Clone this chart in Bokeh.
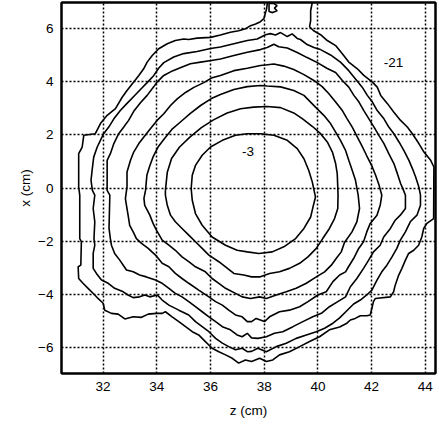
from bokeh.plotting import figure
from bokeh.models import Range1d, FixedTicker, ColumnDataSource, LinearAxis
from bokeh.embed import file_html
from bokeh.resources import INLINE
from bokeh.core.properties import value

# axis ticks
z_ticks = [32, 34, 36, 38, 40, 42, 44]
x_ticks = [-6, -4, -2, 0, 2, 4, 6]

# contour levels (z in cm, x in cm)
z_m3 = [37.86, 38.36, 38.86, 39.23, 39.48, 39.66, 39.79, 39.91, 39.85, 39.73, 39.48, 39.17, 38.73, 38.30, 37.80,
        37.37, 36.99, 36.56, 36.06, 35.69, 35.44, 35.32, 35.28, 35.32, 35.44, 35.69, 36.00, 36.44, 36.93, 37.37, 37.86]
x_m3 = [2.04, 1.98, 1.79, 1.48, 1.10, 0.66, 0.23, -0.34, -0.58, -1.09, -1.52, -1.90, -2.21, -2.40, -2.46,
        -2.40, -2.34, -2.15, -1.84, -1.40, -0.96, -0.46, -0.02, 0.48, 0.85, 1.23, 1.54, 1.79, 1.98, 2.04, 2.04]

z_m6 = [34.32, 34.32, 34.39, 34.51, 34.69, 34.94, 35.19, 35.44, 35.69, 35.94, 36.31, 36.56, 36.87, 37.24, 37.53, 37.83,
        38.20, 38.57, 38.94, 39.32, 39.63, 39.94, 40.18, 40.43, 40.62, 40.74, 40.75, 40.74, 40.72, 40.66, 40.54, 40.35,
        40.10, 39.80, 39.43, 39.10, 38.61, 38.11, 37.61, 37.12, 36.62, 36.11, 35.66, 35.22, 34.84, 34.55, 34.39, 34.32]
x_m6 = [-0.09, -0.27, -0.65, -1.02, -1.27, -1.52, -1.77, -2.02, -2.27, -2.52, -2.77, -2.96, -3.21, -3.27, -3.34, -3.34,
        -3.21, -3.15, -3.02, -2.83, -2.59, -2.27, -1.90, -1.52, -1.15, -0.77, -0.27, 0.04, 0.54, 0.92, 1.35, 1.73,
        2.04, 2.31, 2.60, 2.82, 3.02, 3.06, 3.04, 2.98, 2.82, 2.56, 2.27, 1.90, 1.53, 1.11, 0.59, -0.09]

z_m9 = [40.22, 39.91, 39.48, 39.10, 38.61, 38.11, 37.86, 37.37, 36.87, 36.37, 36.03, 35.63, 35.25, 34.88, 34.56,
        34.28, 34.06, 33.87, 33.73, 33.63, 33.58, 33.52, 33.55, 33.74, 33.86, 33.99, 34.20, 34.45, 34.69, 34.94,
        35.19, 35.44, 35.81, 36.06, 36.31, 36.56, 36.93, 37.18, 37.49, 37.83, 38.08, 38.45, 38.82, 39.19, 39.57,
        39.94, 40.25, 40.50, 40.68, 40.87, 40.99, 41.27, 41.45, 41.55, 41.50, 41.40, 41.28, 41.15, 41.03, 40.84,
        40.66, 40.47, 40.22]
x_m9 = [2.73, 3.04, 3.48, 3.66, 3.80, 3.83, 3.85, 3.81, 3.70, 3.51, 3.36, 3.10, 2.80, 2.48, 2.20,
        1.85, 1.56, 1.19, 0.81, 0.48, -0.09, -0.39, -0.65, -1.02, -1.33, -1.59, -1.96, -2.15, -2.34, -2.59,
        -2.77, -2.96, -3.15, -3.40, -3.58, -3.77, -3.96, -4.09, -4.15, -4.09, -4.15, -4.02, -3.90, -3.77, -3.58,
        -3.34, -3.15, -2.90, -2.65, -2.40, -2.05, -1.65, -1.27, -0.77, -0.27, 0.29, 0.66, 1.04, 1.41, 1.79,
        2.10, 2.42, 2.73]

z_m12 = [40.41, 40.16, 39.85, 39.48, 39.10, 38.73, 38.36, 38.05, 37.86, 37.37, 36.87, 36.37, 36.03, 35.75, 35.38,
         35.07, 34.76, 34.51, 34.26, 34.01, 33.76, 33.51, 33.33, 33.14, 33.02, 32.89, 32.89, 32.83, 32.87, 32.93,
         32.99, 33.12, 33.24, 33.43, 33.68, 33.99, 34.20, 34.45, 34.69, 34.94, 35.19, 35.56, 35.94, 36.19, 36.44,
         36.68, 36.93, 37.18, 37.37, 37.53, 37.70, 38.01, 38.20, 38.57, 38.94, 39.32, 39.63, 40.00, 40.31, 40.56,
         40.81, 41.03, 41.14, 41.33, 41.52, 41.70, 41.82, 41.95, 42.20, 42.32, 42.38, 42.28, 42.15, 42.00, 41.81,
         41.63, 41.47, 41.28, 41.09, 40.91, 40.66, 40.41]
x_m12 = [3.54, 3.81, 4.04, 4.26, 4.45, 4.58, 4.66, 4.62, 4.60, 4.50, 4.41, 4.23, 4.13, 3.96, 3.78,
         3.59, 3.35, 3.10, 2.79, 2.54, 2.23, 1.91, 1.67, 1.35, 1.04, 0.60, 0.04, -0.40, -0.65, -1.02,
         -1.40, -1.65, -1.90, -2.08, -2.27, -2.56, -2.83, -2.96, -3.21, -3.40, -3.58, -3.84, -4.09, -4.27, -4.40,
         -4.59, -4.77, -4.84, -5.02, -5.02, -4.90, -5.02, -4.84, -4.65, -4.59, -4.46, -4.27, -4.02, -3.90, -3.52,
         -3.27, -3.15, -2.96, -2.65, -2.27, -2.02, -1.65, -1.33, -1.02, -0.65, -0.27, 0.10, 0.48, 0.85, 1.23,
         1.60, 1.91, 2.29, 2.60, 2.91, 3.23, 3.54]

z_m15 = [40.35, 39.98, 39.60, 39.23, 38.86, 38.54, 38.36, 38.11, 37.86, 37.37, 36.87, 36.37, 36.03, 35.63, 35.25,
         34.92, 34.58, 34.26, 34.01, 33.89, 33.64, 33.39, 33.14, 32.95, 32.77, 32.58, 32.40, 32.27, 32.15, 32.15,
         32.25, 32.22, 32.27, 32.31, 32.43, 32.62, 32.75, 32.87, 33.12, 33.36, 33.61, 33.95, 34.20, 34.45, 34.69,
         34.94, 35.19, 35.44, 35.69, 35.94, 36.19, 36.44, 36.74, 36.99, 37.18, 37.37, 37.53, 37.76, 38.08, 38.38,
         38.69, 39.07, 39.44, 39.81, 40.13, 40.43, 40.74, 41.03, 41.21, 41.45, 41.70, 41.89, 42.07, 42.32, 42.45,
         42.70, 42.88, 43.07, 43.26, 43.26, 43.19, 43.08, 42.96, 42.83, 42.64, 42.46, 42.27, 42.09, 41.90, 41.71,
         41.53, 41.34, 41.15, 40.91, 40.66, 40.35]
x_m15 = [4.49, 4.71, 4.90, 5.09, 5.26, 5.31, 5.40, 5.28, 5.20, 5.10, 4.98, 4.85, 4.79, 4.73, 4.67,
         4.54, 4.40, 4.23, 3.98, 3.81, 3.48, 3.20, 2.88, 2.54, 2.29, 2.04, 1.67, 1.29, 1.04, -0.09,
         -0.27, -1.52, -1.90, -2.15, -2.46, -2.71, -2.90, -3.08, -3.15, -3.27, -3.34, -3.46, -3.58, -3.77, -3.96,
         -4.09, -4.27, -4.46, -4.65, -4.84, -5.02, -5.21, -5.33, -5.52, -5.59, -5.46, -5.63, -5.65, -5.59, -5.46,
         -5.40, -5.21, -5.02, -4.84, -4.71, -4.46, -4.27, -4.09, -3.71, -3.40, -3.02, -2.71, -2.40, -2.15, -1.84,
         -1.52, -1.21, -1.02, -0.77, -0.27, -0.09, 0.17, 0.54, 0.92, 1.29, 1.67, 1.98, 2.29, 2.60, 2.91,
         3.23, 3.48, 3.79, 4.04, 4.34, 4.49]

z_m18 = [40.10, 39.85, 39.60, 39.35, 39.23, 39.04, 38.86, 38.61, 38.42, 38.23, 38.05, 37.74, 37.37, 36.87, 36.37,
         36.00, 35.50, 35.00, 34.63, 34.26, 34.06, 33.89, 33.64, 33.39, 33.14, 32.89, 32.64, 32.40, 32.21, 32.02,
         31.90, 31.78, 31.65, 31.59, 31.55, 31.60, 31.69, 31.63, 31.69, 31.66, 31.69, 31.63, 31.63, 31.75, 31.94,
         32.19, 32.43, 32.75, 32.93, 33.12, 33.36, 33.55, 33.74, 34.02, 34.20, 34.45, 34.82, 35.19, 35.44, 35.69,
         35.94, 36.19, 36.44, 36.68, 36.93, 37.18, 37.37, 37.53, 37.76, 38.08, 38.45, 38.82, 39.19, 39.57, 39.94,
         40.25, 40.56, 40.81, 41.03, 41.33, 41.58, 41.82, 42.01, 42.20, 42.38, 42.57, 42.76, 42.94, 43.07, 43.26,
         43.44, 43.69, 43.82, 43.82, 43.76, 43.64, 43.52, 43.39, 43.20, 43.02, 42.83, 42.64, 42.46, 42.21, 42.03,
         41.84, 41.65, 41.40, 41.15, 40.84, 40.47, 40.10]
x_m18 = [5.20, 5.28, 5.39, 5.58, 5.62, 5.79, 5.69, 5.84, 5.75, 5.80, 5.76, 5.60, 5.54, 5.42, 5.30,
         5.24, 5.13, 5.05, 4.92, 4.71, 4.49, 4.23, 3.96, 3.70, 3.44, 3.18, 2.91, 2.60, 2.29, 2.04,
         1.79, 1.54, 1.16, 0.66, 0.29, -0.09, -0.27, -0.77, -1.27, -1.90, -2.15, -2.46, -3.02, -3.21, -3.46,
         -3.58, -3.77, -3.90, -4.02, -4.12, -4.09, -4.02, -4.09, -4.02, -4.21, -4.40, -4.59, -4.77, -5.02, -5.21,
         -5.40, -5.65, -5.83, -5.96, -6.08, -6.02, -6.15, -6.14, -6.02, -6.15, -5.96, -5.83, -5.65, -5.52, -5.40,
         -5.27, -5.08, -4.88, -4.66, -4.36, -4.21, -4.02, -3.84, -3.46, -3.15, -2.90, -2.59, -2.27, -1.96, -1.65,
         -1.27, -1.02, -0.65, -0.27, 0.04, 0.41, 0.73, 1.04, 1.41, 1.73, 2.04, 2.29, 2.60, 2.91, 3.23,
         3.48, 3.79, 4.10, 4.41, 4.73, 5.00, 5.20]

z_m21 = [38.12, 38.09, 37.99, 37.86, 37.68, 37.49, 37.30, 37.05, 36.74, 36.37, 36.00, 35.50, 35.19, 35.00, 34.69,
         34.39, 34.07, 33.83, 33.64, 33.51, 33.33, 33.14, 32.89, 32.71, 32.46, 32.15, 31.90, 31.71, 31.28, 31.22,
         31.09, 31.09, 31.13, 31.13, 31.19, 31.17, 31.07, 31.09, 31.25, 31.44, 31.69, 31.81, 32.00, 32.06, 32.31,
         32.56, 32.81, 33.12, 33.43, 33.68, 33.99, 34.20, 34.32, 34.57, 34.82, 35.07, 35.32, 35.56, 35.81, 36.06,
         36.31, 36.56, 36.81, 37.05, 37.30, 37.53, 37.83, 38.08, 38.32, 38.57, 38.94, 39.32, 39.69, 40.06, 40.43,
         40.81, 41.08, 41.21, 41.39, 41.58, 41.82, 41.95, 42.01, 42.07, 42.14, 42.70, 42.82, 42.88, 43.01, 43.13,
         43.26, 43.38, 43.57, 43.75, 43.87, 43.94, 44.06, 44.31, 44.32, 44.20, 43.95, 43.76, 43.52, 43.33, 43.08,
         42.83, 42.59, 42.34, 42.21, 42.03, 41.71, 41.47, 41.15, 40.91, 40.66, 40.35, 40.10, 39.84, 39.69, 39.73,
         39.73, 39.79]
x_m21 = [6.97, 6.74, 6.37, 6.25, 6.16, 6.10, 5.98, 5.91, 5.85, 5.75, 5.66, 5.63, 5.58, 5.60, 5.54,
         5.42, 5.23, 4.98, 4.73, 4.48, 4.23, 3.98, 3.66, 3.41, 2.98, 2.73, 2.42, 2.04, 1.98, 1.54,
         1.29, 0.03, -0.27, -1.90, -2.02, -2.90, -2.96, -3.40, -3.58, -3.77, -4.02, -4.15, -4.33, -4.59, -4.71,
         -4.74, -4.92, -4.84, -4.86, -4.74, -4.71, -4.71, -4.65, -4.84, -5.02, -5.21, -5.40, -5.52, -5.77, -6.02,
         -6.15, -6.27, -6.40, -6.58, -6.46, -6.52, -6.40, -6.52, -6.46, -6.27, -6.15, -5.96, -5.77, -5.59, -5.33,
         -5.22, -5.08, -4.96, -4.90, -4.80, -4.80, -4.77, -4.52, -4.27, -4.15, -4.09, -3.90, -3.65, -3.27, -3.02,
         -2.71, -2.46, -2.34, -2.15, -1.84, -1.52, -1.33, -1.15, 0.79, 1.04, 1.35, 1.67, 2.04, 2.29, 2.54,
         2.85, 3.17, 3.48, 3.79, 3.98, 4.23, 4.48, 4.73, 5.04, 5.35, 5.54, 5.76, 5.91, 6.06, 6.29,
         6.66, 6.97]

# small closed piece of the -21 level at the top edge
z_m21_loop = [38.18, 38.35, 38.48, 38.38, 38.48, 38.31, 38.18, 38.18]
x_m21_loop = [6.93, 6.94, 6.85, 6.76, 6.66, 6.59, 6.63, 6.93]

# contour labels
label_z = [37.40, 42.82]
label_x = [1.38, 4.71]
label_text = ["-3", "-21"]

p = figure(width=439, height=428, output_backend="svg", toolbar_location=None,
           x_range=Range1d(30.45, 44.38), y_range=Range1d(-6.97, 6.97),
           min_border_left=61, min_border_right=4, min_border_top=2, min_border_bottom=55,
           x_axis_label="z (cm)", y_axis_label="x (cm)")
p.styles = {"position": "absolute", "left": "0px", "top": "0px"}
p.background_fill_color = "white"
p.border_fill_color = "white"
p.outline_line_color = "black"
p.outline_line_width = 2
p.outline_line_alpha = 1.0

bottom_axis = p.below[0]
left_axis = p.left[0]

# plain frame lines on top and right (no ticks, no labels)
top_axis = LinearAxis(ticker=FixedTicker(ticks=[]), major_tick_line_color=None, minor_tick_line_color=None,
                      major_tick_out=0, major_tick_in=0, axis_line_color="black", axis_line_width=2)
right_axis = LinearAxis(ticker=FixedTicker(ticks=[]), major_tick_line_color=None, minor_tick_line_color=None,
                        major_tick_out=0, major_tick_in=0, axis_line_color="black", axis_line_width=2)
p.add_layout(top_axis, "above")
p.add_layout(right_axis, "right")

bottom_axis.ticker = FixedTicker(ticks=z_ticks)
left_axis.ticker = FixedTicker(ticks=x_ticks)
p.xgrid.ticker = FixedTicker(ticks=z_ticks)
p.ygrid.ticker = FixedTicker(ticks=x_ticks)
for g in (p.xgrid, p.ygrid):
    g.grid_line_color = "black"
    g.grid_line_dash = "2 2"
    g.grid_line_width = 1.5
    g.grid_line_alpha = 1.0

for ax in (bottom_axis, left_axis):
    ax.axis_line_color = "black"
    ax.axis_line_width = 2
    ax.major_tick_line_color = None
    ax.minor_tick_line_color = None
    ax.major_tick_out = 0
    ax.major_tick_in = 0
    ax.minor_tick_out = 0
    ax.minor_tick_in = 0
    ax.major_label_text_font = "Liberation Sans"
    ax.major_label_text_font_size = "13.5px"
    ax.major_label_text_color = "black"
    ax.axis_label_text_font = "Liberation Sans"
    ax.axis_label_text_font_size = "13.5px"
    ax.axis_label_text_font_style = "normal"
    ax.axis_label_text_color = "black"
bottom_axis.major_label_standoff = 8
left_axis.major_label_standoff = 8
bottom_axis.axis_label_standoff = 9
left_axis.axis_label_standoff = 2

for zs, xs in ((z_m3, x_m3), (z_m6, x_m6), (z_m9, x_m9), (z_m12, x_m12), (z_m15, x_m15),
               (z_m18, x_m18), (z_m21, x_m21), (z_m21_loop, x_m21_loop)):
    p.line(zs, xs, line_color="black", line_width=1.6)

src = ColumnDataSource(dict(z=label_z, x=label_x, t=label_text))
p.text(x="z", y="x", text="t", source=src, text_align="center", text_baseline="middle",
       text_font=value("Liberation Sans"), text_font_size="13.5px", text_color="black")

open("out.html", "w").write(file_html(p, INLINE))
